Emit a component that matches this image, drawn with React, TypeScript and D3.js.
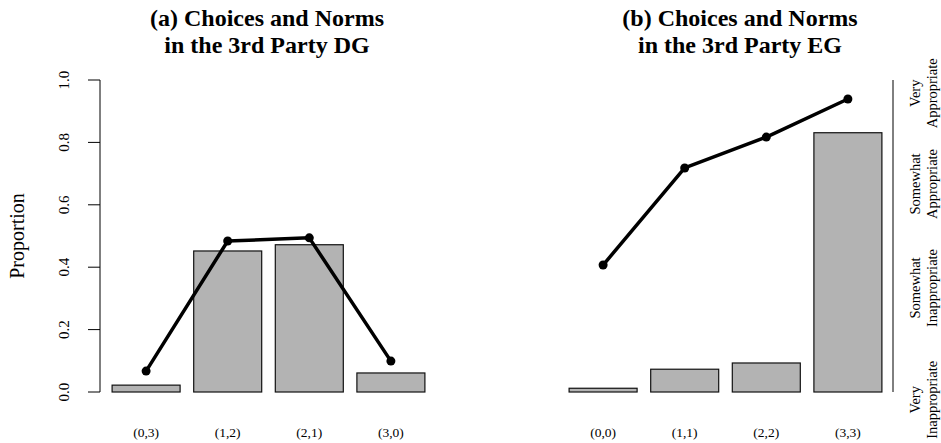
import React from 'react';
import * as d3 from 'd3';

// data
const dgCategories = ['(0,3)', '(1,2)', '(2,1)', '(3,0)'];
const dgChoices = [0.022, 0.452, 0.472, 0.061];
const dgNorms = [0.067, 0.484, 0.494, 0.099];

const egCategories = ['(0,0)', '(1,1)', '(2,2)', '(3,3)'];
const egChoices = [0.012, 0.073, 0.093, 0.831];
const egNorms = [0.407, 0.718, 0.817, 0.939];

const yTicks = [0, 0.2, 0.4, 0.6, 0.8, 1.0];
const normLabels = [
  ['Very', 'Inappropriate'],
  ['Somewhat', 'Inappropriate'],
  ['Somewhat', 'Appropriate'],
  ['Very', 'Appropriate'],
];
const normLabelPos = [-1.05, -1 / 3, 1 / 3, 0.915];

const W = 941;
const H = 443;
const font = '"Liberation Serif", "DejaVu Serif", serif';

const y = d3.scaleLinear().domain([0, 1]).range([392, 80]);
const yNorm = d3.scaleLinear().domain([-1, 1]).range([392, 80]);

function Panel(props: {
  cats: string[];
  choices: number[];
  norms: number[];
  range: [number, number];
  title: string[];
  titleX: number;
}) {
  const { cats, choices, norms, range, title, titleX } = props;
  const x = d3.scaleBand().domain(cats).range(range).paddingInner(1 / 6).paddingOuter(1 / 6);
  const line = d3
    .line<number>()
    .x((_, i) => x(cats[i])! + x.bandwidth() / 2)
    .y((d) => y(d));
  return (
    <g>
      {title.map((t, i) => (
        <text key={i} x={titleX} y={26 + i * 27} textAnchor="middle" fontWeight="bold" fontSize={24} fontFamily={font}>
          {t}
        </text>
      ))}
      {choices.map((v, i) => (
        <rect
          key={i}
          x={x(cats[i])}
          y={y(v)}
          width={x.bandwidth()}
          height={y(0) - y(v)}
          fill="#b3b3b3"
          stroke="#111"
          strokeWidth={1.2}
        />
      ))}
      <path d={line(norms)!} fill="none" stroke="#000" strokeWidth={3.5} strokeLinejoin="round" />
      {norms.map((v, i) => (
        <circle key={i} cx={x(cats[i])! + x.bandwidth() / 2} cy={y(v)} r={4.5} fill="#000" />
      ))}
      {cats.map((c) => (
        <text key={c} x={x(c)! + x.bandwidth() / 2} y={437} textAnchor="middle" fontSize={13.5} fontFamily={font}>
          {c}
        </text>
      ))}
    </g>
  );
}

export default function App() {
  return (
    <svg width={W} height={H} style={{ position: 'absolute', left: 0, top: 0, background: '#fff' }}>
      <rect width={W} height={H} fill="#fff" />
      {/* left axis */}
      <g fontFamily={font} fontSize={15}>
        <line x1={100} x2={100} y1={y(0)} y2={y(1)} stroke="#000" />
        {yTicks.map((t) => (
          <g key={t}>
            <line x1={88} x2={100} y1={y(t)} y2={y(t)} stroke="#000" />
            <text transform={`translate(69,${y(t)}) rotate(-90)`} textAnchor="middle">
              {t.toFixed(1)}
            </text>
          </g>
        ))}
        <text transform={`translate(24,236) rotate(-90)`} textAnchor="middle" fontSize={20}>
          Proportion
        </text>
      </g>
      <Panel
        cats={dgCategories}
        choices={dgChoices}
        norms={dgNorms}
        range={[98.5, 438.5]}
        title={['(a) Choices and Norms', 'in the 3rd Party DG']}
        titleX={267}
      />
      <Panel
        cats={egCategories}
        choices={egChoices}
        norms={egNorms}
        range={[555.5, 895.5]}
        title={['(b) Choices and Norms', 'in the 3rd Party EG']}
        titleX={740}
      />
      {/* right norm axis */}
      <g fontFamily={font} fontSize={14.5}>
        <line x1={893} x2={893} y1={yNorm(-1)} y2={yNorm(1)} stroke="#000" />
        {normLabels.map((lab, i) => (
          <text key={i} transform={`translate(920,${yNorm(normLabelPos[i])}) rotate(-90)`} textAnchor="middle">
            <tspan x={0} dy={0}>{lab[0]}</tspan>
            <tspan x={0} dy={16.5}>{lab[1]}</tspan>
          </text>
        ))}
      </g>
    </svg>
  );
}
